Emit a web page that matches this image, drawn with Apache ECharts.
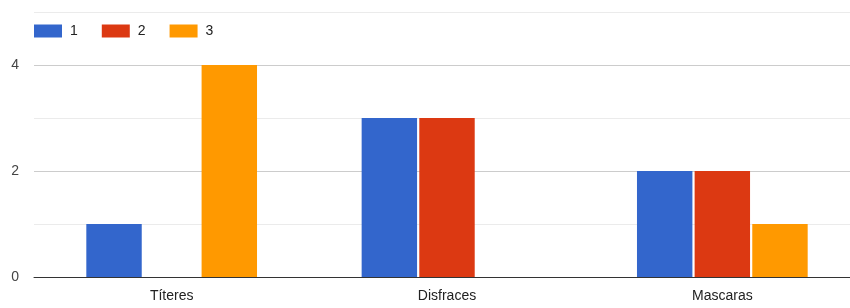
<!DOCTYPE html>
<html>
<head>
<meta charset="utf-8">
<script src="https://cdn.jsdelivr.net/npm/echarts@6/dist/echarts.min.js"></script>
<style>
  html, body { margin: 0; padding: 0; background: #fff; overflow: hidden; }
  /* a little wider than the window: the plot runs off the right edge in the reference */
  #output { width: 860px; height: 308px; }
</style>
</head>
<body>
<div id="output"></div>
<script>
const chart = echarts.init(document.getElementById('output'));

const categories = ['Títeres', 'Disfraces', 'Mascaras']
const seriesNames = ['1', '2', '3']
const values1 = [1, 3, 2]
const values2 = [0, 3, 2]
const values3 = [4, 0, 1]
const colors = ['#3366cc', '#dc3912', '#ff9900']

const font = 'Arial, "Liberation Sans", sans-serif'

function bar (name, data) {
  return {
    name,
    type: 'bar',
    data,
    barGap: '4%',
    barCategoryGap: '38%'
  }
}

chart.setOption({
  animation: false,
  color: colors,
  textStyle: { fontFamily: font },
  legend: {
    left: 29,
    top: 19,
    itemWidth: 28,
    itemHeight: 13,
    itemGap: 24,
    itemStyle: { borderWidth: 0 },
    icon: 'rect',
    textStyle: { fontSize: 14, color: '#222', fontFamily: font, padding: [0, 0, 0, 3] },
    data: seriesNames
  },
  grid: {
    left: 34,
    right: 0,
    top: 12,
    bottom: 31
  },
  xAxis: {
    type: 'category',
    data: categories,
    axisTick: { show: false },
    axisLine: { lineStyle: { color: '#333', width: 1 } },
    axisLabel: { color: '#222', fontSize: 14, margin: 12, fontFamily: font }
  },
  yAxis: {
    type: 'value',
    min: 0,
    max: 5,
    interval: 1,
    axisLine: { show: false },
    axisTick: { show: false },
    axisLabel: {
      color: '#444',
      fontSize: 14,
      margin: 15,
      fontFamily: font,
      formatter: v => (v % 2 === 0 ? String(v) : '')
    },
    splitLine: { lineStyle: { color: ['#cccccc', '#ebebeb'] } }
  },
  series: [
    bar(seriesNames[0], values1),
    bar(seriesNames[1], values2),
    bar(seriesNames[2], values3)
  ]
})
</script>
</body>
</html>
